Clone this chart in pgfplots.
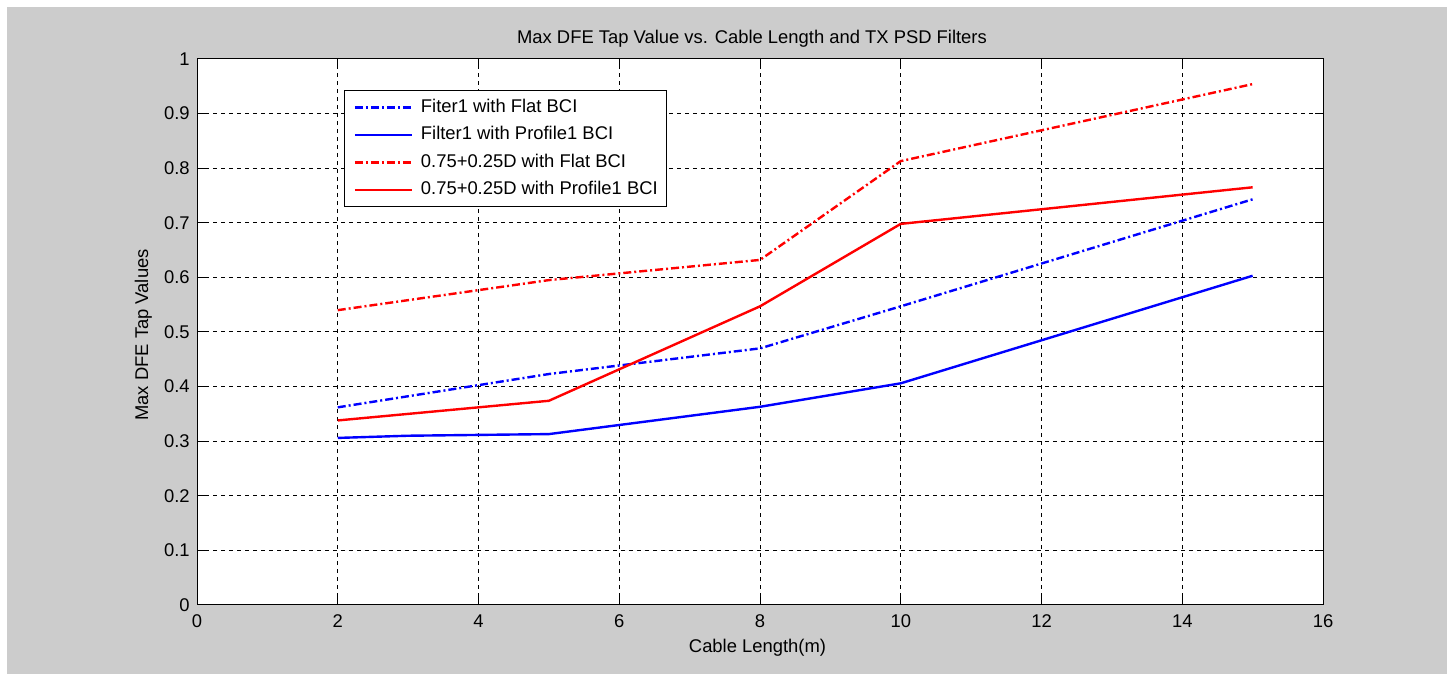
\documentclass[border=0pt]{standalone}
\usepackage{fontspec}
\setmainfont{Liberation Sans}
\usepackage{pgfplots}
\pgfplotsset{compat=1.18}
\definecolor{figgray}{RGB}{204,204,204}
\definecolor{mblue}{RGB}{0,0,255}
\definecolor{mred}{RGB}{255,0,0}
\tikzset{dashdotm/.style={dash pattern=on 4pt off 1.5pt on 1pt off 1.5pt}}
\begin{document}
\begin{tikzpicture}
\useasboundingbox (0,0) rectangle (723.5pt,337pt);
\fill[white] (0,0) rectangle (723.5pt,337pt);
\fill[figgray] (3.5pt,0) rectangle (723.5pt,333.5pt);
\begin{axis}[
  at={(98.5pt,34.5pt)}, anchor=south west,
  scale only axis, width=563pt, height=273pt,
  xmin=0, xmax=16, ymin=0, ymax=1,
  xtick={0,2,...,16}, ytick={0,0.1,...,1.0},
  axis background/.style={fill=white},
  axis line style={black, line width=0.5pt},
  tick style={black, line width=0.5pt},
  tick align=inside, major tick length=4pt,
  grid=major,
  major grid style={black, line width=0.5pt, dash pattern=on 2pt off 2pt},
  font=\fontsize{9.2pt}{11pt}\selectfont,
  /pgf/number format/assume math mode=true,
  xticklabel style={anchor=base, yshift=-11.5pt, inner sep=0pt},
  yticklabel style={anchor=east, inner sep=0pt, xshift=-3.5pt},
  every axis plot/.append style={line width=1.2pt},
  legend cell align=left,
  legend image code/.code={\draw[#1, line width=1.2pt] (0pt,0pt) -- (28.5pt,0pt);},
  legend style={at={(rel axis cs:0.1306,0.9432)}, anchor=north west,
    draw=black, line width=0.5pt, fill=white,
    inner xsep=4.5pt, inner ysep=3.9pt, row sep=4.75pt, column sep=4pt,
    nodes={inner sep=0pt, text height=7pt, text depth=2pt},
    font=\fontsize{9.2pt}{11pt}\selectfont},
]
\addplot[mblue, dashdotm] coordinates {(2,0.362) (5,0.423) (8,0.470) (10,0.547) (15,0.743)};
\addlegendentry{Fiter1 with Flat BCI}
\addplot[mblue, solid] coordinates {(2,0.306) (3,0.310) (5,0.313) (8,0.363) (10,0.406) (15,0.603)};
\addlegendentry{Filter1 with Profile1 BCI}
\addplot[mred, dashdotm] coordinates {(2,0.540) (5,0.595) (8,0.632) (10,0.813) (15,0.954)};
\addlegendentry{0.75+0.25D with Flat BCI}
\addplot[mred, solid] coordinates {(2,0.338) (3,0.350) (5,0.374) (8,0.547) (10,0.698) (15,0.765)};
\addlegendentry{0.75+0.25D with Profile1 BCI}
\end{axis}
\node[anchor=base, font=\fontsize{9.2pt}{11pt}\selectfont] at (376pt,315pt) {Max DFE Tap Value vs. Cable Length and TX PSD Filters};
\node[anchor=base, font=\fontsize{9.2pt}{11pt}\selectfont] at (378.75pt,10.75pt) {Cable Length(m)};
\node[anchor=base, rotate=90, font=\fontsize{9.2pt}{11pt}\selectfont] at (74pt,169.5pt) {Max DFE Tap Values};
\end{tikzpicture}
\end{document}
